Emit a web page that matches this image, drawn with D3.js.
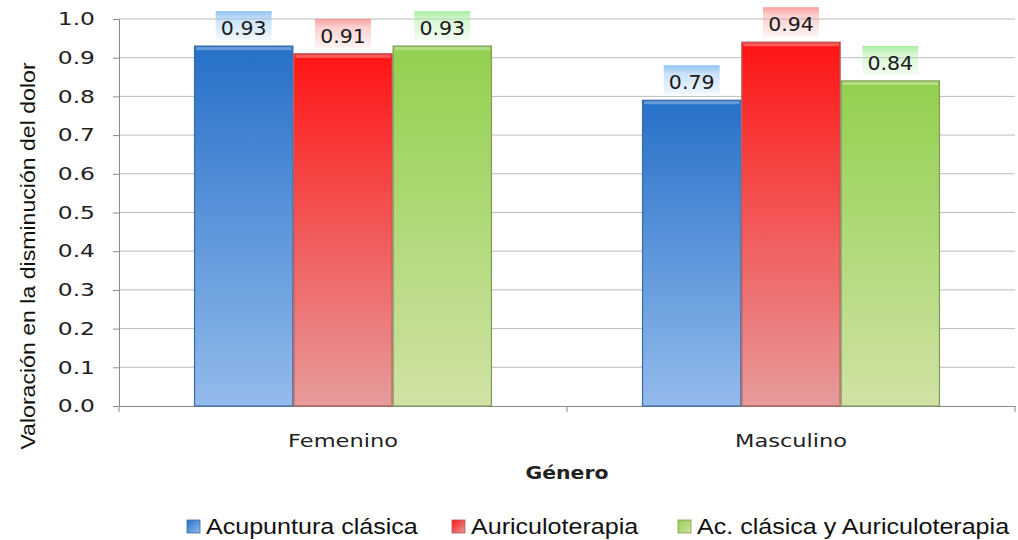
<!DOCTYPE html>
<html>
<head>
<meta charset="utf-8">
<script src="https://cdn.jsdelivr.net/npm/d3@7/dist/d3.min.js"></script>
<style>
  html, body { margin: 0; padding: 0; background: #fff; }
  svg { display: block; }
</style>
</head>
<body>
<svg id="chart" width="1018" height="540"></svg>
<script>
// Data
const categories = ["Femenino", "Masculino"];
const seriesNames = ["Acupuntura clásica", "Auriculoterapia", "Ac. clásica y Auriculoterapia"];
const acupunturaValues = [0.93, 0.79];
const auriculoValues = [0.91, 0.94];
const combinadaValues = [0.93, 0.84];
const yTicks = [0, 0.1, 0.2, 0.3, 0.4, 0.5, 0.6, 0.7, 0.8, 0.9, 1.0];

const seriesValues = [acupunturaValues, auriculoValues, combinadaValues];

// Colour styling per series: top, bottom, border, label tint
const styles = [
  { top: "#2670c9", bottom: "#93bbec", border: "#3a6aa8", tint: "#8cc0f0" },
  { top: "#ff1414", bottom: "#e69c9c", border: "#b55555", tint: "#f79a9a" },
  { top: "#92d04e", bottom: "#d0e2a5", border: "#7f9a5a", tint: "#a5ec9e" }
];

const svg = d3.select("#chart");
const plotLeft = 119, plotRight = 1015, plotTop = 19, plotBottom = 406;
const SANS = "DejaVu Sans, Verdana, sans-serif";
const LEG = "Liberation Sans, Arial, sans-serif";

// Widen text horizontally about its anchor point
function stretch(sel, k) {
  sel.each(function() {
    const t = d3.select(this);
    const x = +(t.attr("x") || 0);
    t.attr("x", x / k).attr("transform", `scale(${k},1)`);
  });
}

const x0 = d3.scaleBand().domain(categories).range([plotLeft, plotRight])
  .paddingInner(0.335).paddingOuter(0.1675);
const x1 = d3.scaleBand().domain(d3.range(seriesNames.length)).range([0, x0.bandwidth()]);
const y = d3.scaleLinear().domain([0, 1]).range([plotBottom, plotTop]);

const defs = svg.append("defs");
styles.forEach((s, i) => {
  const g = defs.append("linearGradient").attr("id", "bar" + i)
    .attr("x1", 0).attr("y1", 0).attr("x2", 0).attr("y2", 1);
  g.append("stop").attr("offset", "0%").attr("stop-color", s.top);
  g.append("stop").attr("offset", "100%").attr("stop-color", s.bottom);
  const lg = defs.append("linearGradient").attr("id", "lab" + i)
    .attr("x1", 0).attr("y1", 0).attr("x2", 0).attr("y2", 1);
  lg.append("stop").attr("offset", "0%").attr("stop-color", s.tint).attr("stop-opacity", 0.95);
  lg.append("stop").attr("offset", "30%").attr("stop-color", s.tint).attr("stop-opacity", 0.45);
  lg.append("stop").attr("offset", "100%").attr("stop-color", s.tint).attr("stop-opacity", 0.12);
  const sg = defs.append("linearGradient").attr("id", "sw" + i)
    .attr("x1", 0).attr("y1", 0).attr("x2", 1).attr("y2", 1);
  sg.append("stop").attr("offset", "0%").attr("stop-color", s.top);
  sg.append("stop").attr("offset", "100%").attr("stop-color", s.bottom);
});

// Gridlines
svg.append("g").selectAll("line").data(yTicks.filter(d => d > 0)).join("line")
  .attr("x1", plotLeft).attr("x2", plotRight)
  .attr("y1", d => y(d)).attr("y2", d => y(d))
  .attr("stroke", "#bcbcbc").attr("stroke-width", 1);

// Y axis
const yAxis = svg.append("g").attr("transform", `translate(${plotLeft},0)`)
  .call(d3.axisLeft(y).tickValues(yTicks).tickFormat(d3.format(".1f")).tickSize(6).tickPadding(18));
yAxis.select(".domain").attr("stroke", "#8a8a8a");
yAxis.selectAll(".tick line").attr("stroke", "#8a8a8a");
yAxis.selectAll("text").attr("font-family", SANS)
  .attr("font-size", 18).attr("fill", "#222");
stretch(yAxis.selectAll("text"), 1.3);

// X axis
const xAxis = svg.append("g").attr("transform", `translate(0,${plotBottom})`)
  .call(d3.axisBottom(x0).tickSize(0).tickPadding(28));
xAxis.select(".domain").attr("stroke", "#8a8a8a");
xAxis.selectAll("text").attr("font-family", SANS)
  .attr("font-size", 18).attr("fill", "#222");
stretch(xAxis.selectAll("text"), 1.25);
// category boundary ticks
svg.append("g").selectAll("line").data([plotLeft, (plotLeft + plotRight) / 2, plotRight]).join("line")
  .attr("x1", d => d).attr("x2", d => d)
  .attr("y1", plotBottom).attr("y2", plotBottom + 6)
  .attr("stroke", "#8a8a8a");

// Bars
const groups = svg.append("g").selectAll("g").data(categories).join("g")
  .attr("transform", d => `translate(${x0(d)},0)`);

groups.each(function(cat, ci) {
  const g = d3.select(this);
  seriesValues.forEach((vals, si) => {
    const v = vals[ci];
    const bx = x1(si), bw = x1.bandwidth();
    g.append("rect")
      .attr("x", bx + 0.5).attr("y", y(v))
      .attr("width", bw - 1).attr("height", y(0) - y(v))
      .attr("fill", `url(#bar${si})`)
      .attr("stroke", styles[si].border).attr("stroke-width", 1.2);
    // top bevel highlight
    g.append("rect")
      .attr("x", bx + 2).attr("y", y(v) + 1)
      .attr("width", bw - 4).attr("height", 3)
      .attr("fill", "#ffffff").attr("opacity", 0.3);
    // label background and text
    const cx = bx + bw / 2;
    const ly = y(v) - 19;
    g.append("rect")
      .attr("x", cx - 28).attr("y", ly - 16)
      .attr("width", 56).attr("height", 29)
      .attr("fill", `url(#lab${si})`);
    g.append("text")
      .attr("x", cx).attr("y", ly + 8)
      .attr("text-anchor", "middle")
      .attr("font-family", SANS)
      .attr("font-size", 19).attr("fill", "#1a1a1a")
      .text(d3.format(".2f")(v))
      .call(stretch, 1.08);
  });
});

// Axis titles
svg.append("text")
  .attr("transform", `translate(35,256) rotate(-90) scale(1.1,1)`)
  .attr("text-anchor", "middle")
  .attr("font-family", LEG)
  .attr("font-size", 21).attr("fill", "#111")
  .text("Valoración en la disminución del dolor");

svg.append("text")
  .attr("x", (plotLeft + plotRight) / 2).attr("y", 479)
  .attr("text-anchor", "middle")
  .attr("font-family", SANS)
  .attr("font-weight", "bold")
  .attr("font-size", 17).attr("fill", "#222")
  .text("Género")
  .call(stretch, 1.2);

// Legend
const legendX = [187, 452, 678];
const legend = svg.append("g").selectAll("g").data(seriesNames).join("g")
  .attr("transform", (d, i) => `translate(${legendX[i]},520)`);
legend.append("rect")
  .attr("width", 13).attr("height", 13)
  .attr("fill", (d, i) => `url(#sw${i})`)
  .attr("stroke", (d, i) => styles[i].border).attr("stroke-width", 0.8);
legend.append("text")
  .attr("x", 19).attr("y", 14)
  .attr("font-family", LEG)
  .attr("font-size", 22).attr("fill", "#111")
  .text(d => d)
  .call(stretch, 1.14);
</script>
</body>
</html>
